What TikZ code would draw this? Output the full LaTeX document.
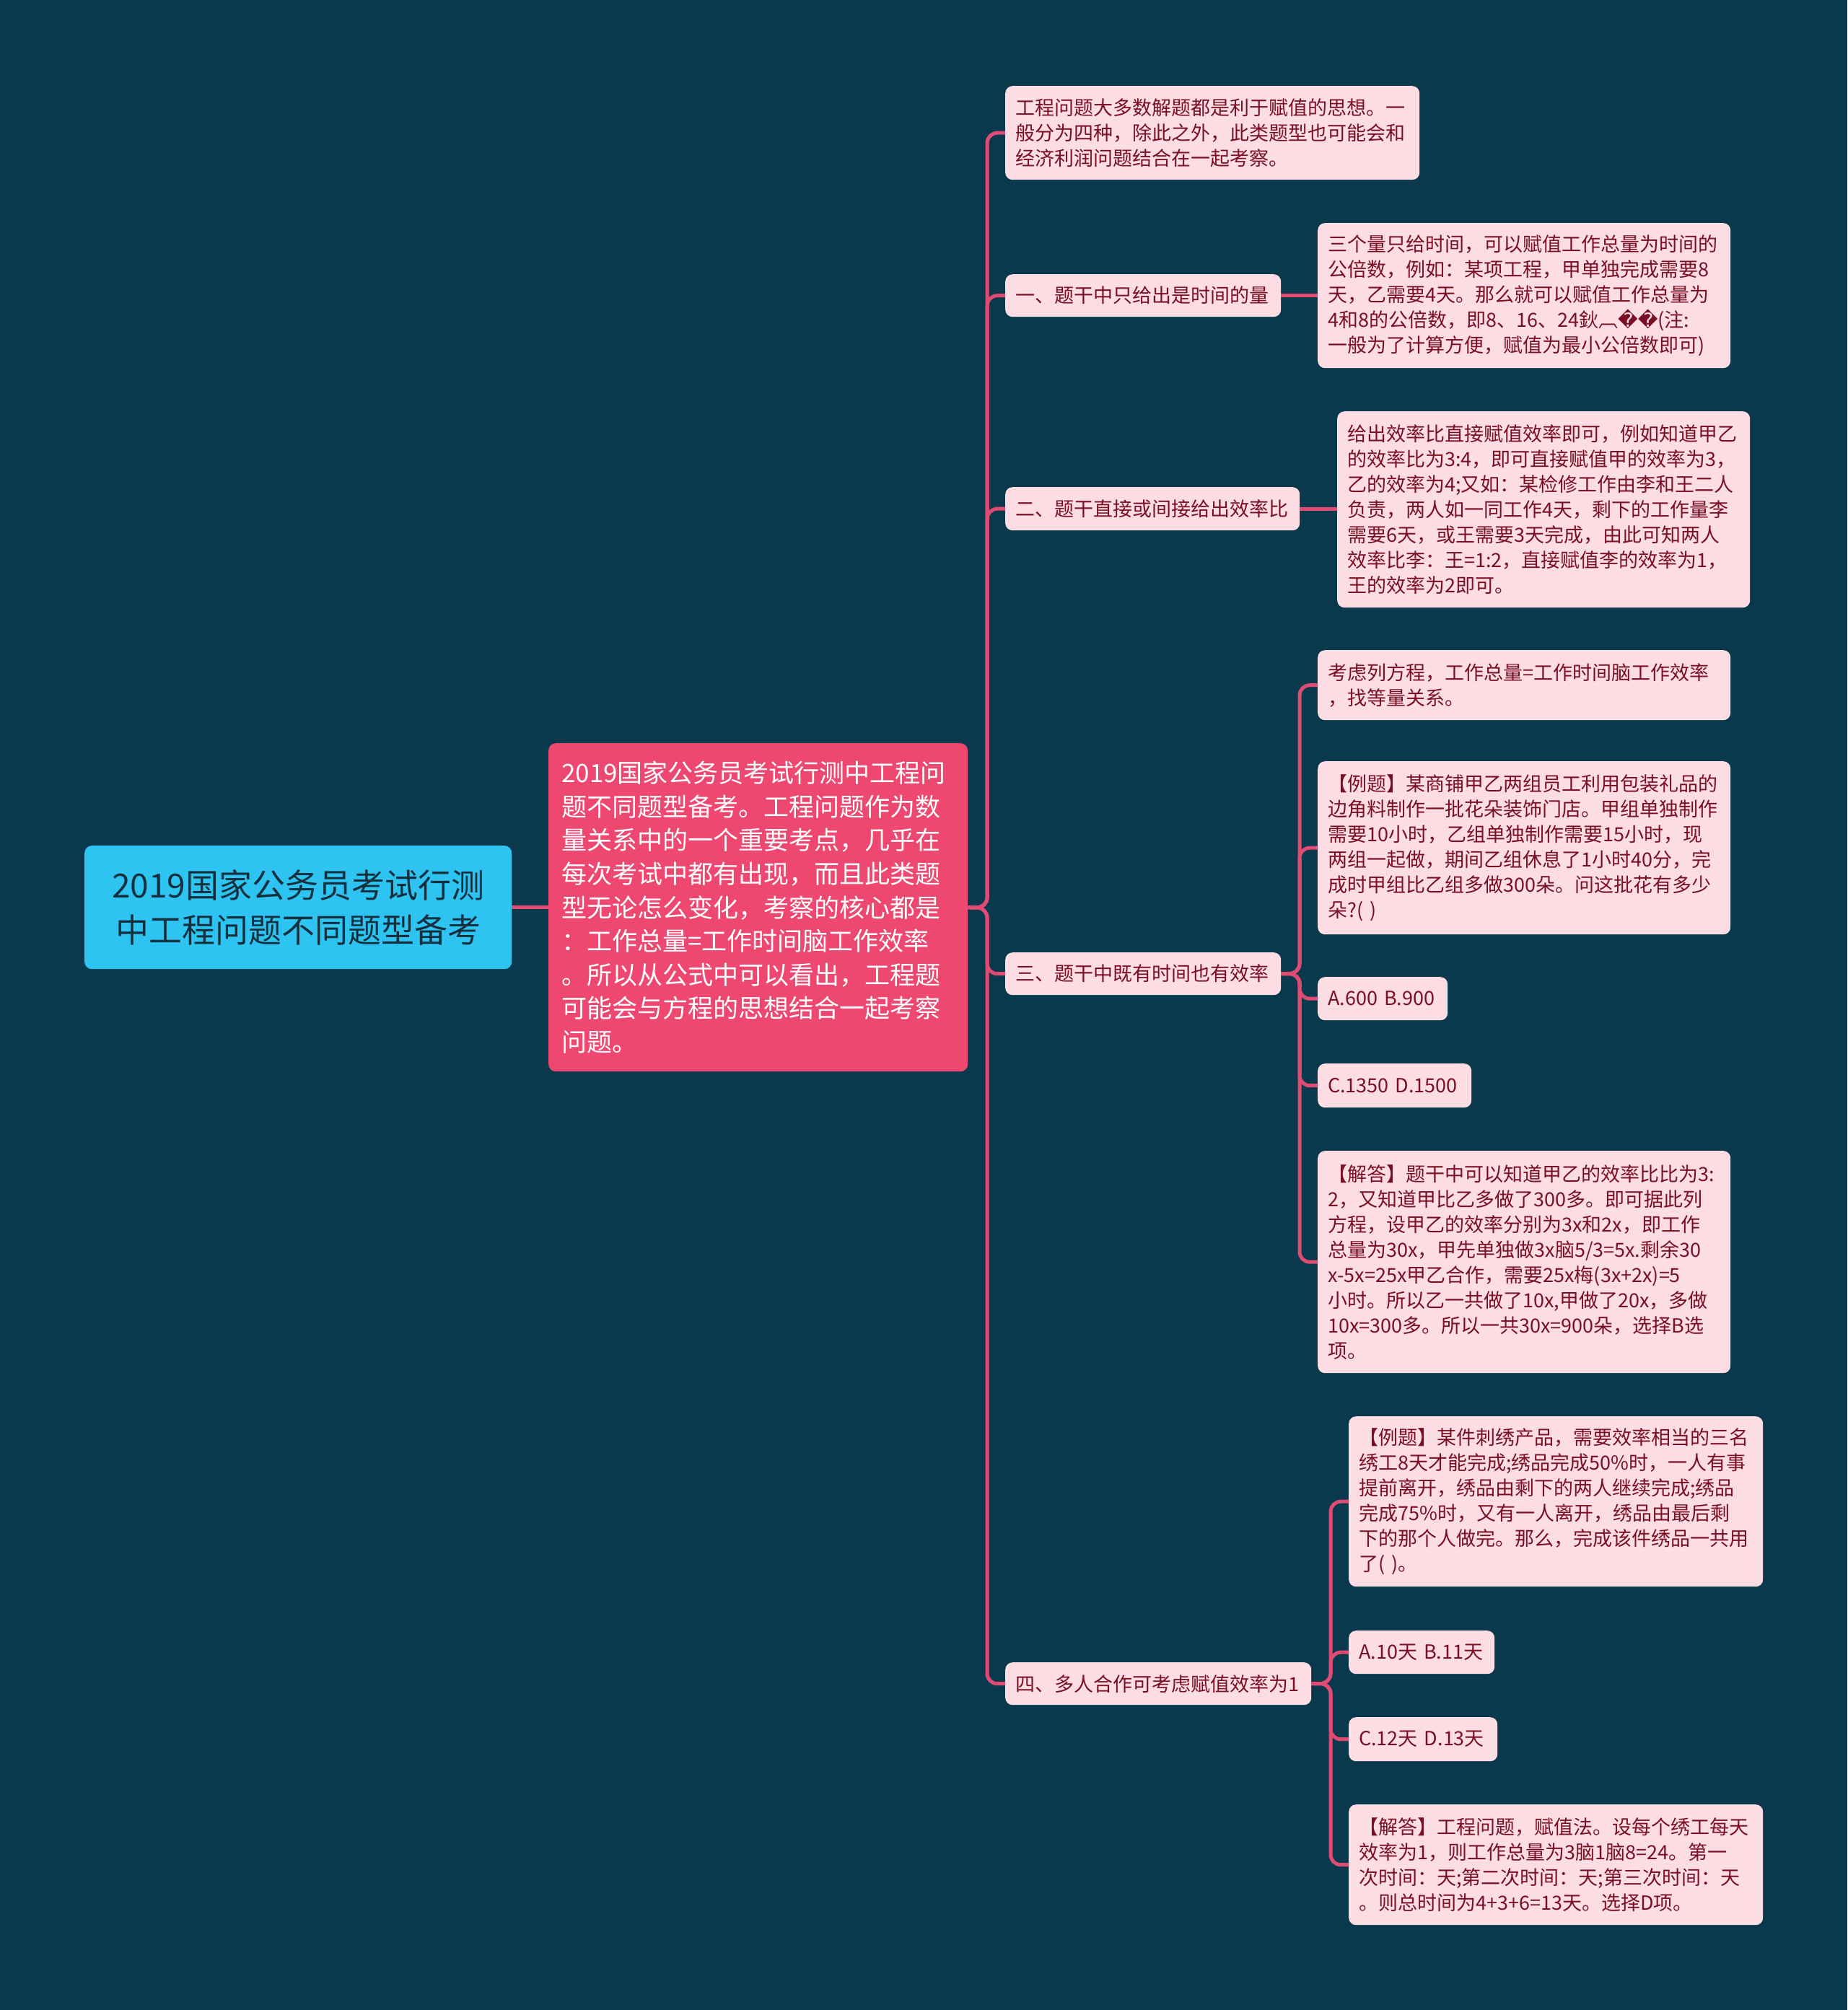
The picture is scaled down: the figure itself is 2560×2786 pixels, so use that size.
\documentclass[tikz,border=0pt]{standalone}
\usepackage{fontspec}
\setmainfont{Noto Sans CJK SC}
\newfontfamily\dejavu{DejaVu Sans}
\definecolor{bg}{HTML}{0A394D}
\definecolor{rootfill}{HTML}{2EC4F2}
\definecolor{roottext}{HTML}{14303E}
\definecolor{mainfill}{HTML}{EE4770}
\definecolor{leaffill}{HTML}{FCDDE4}
\definecolor{leaftext}{HTML}{7A0F24}
\definecolor{edgecol}{HTML}{E04B74}
\begin{document}
\begin{tikzpicture}[x=1pt,y=-1pt,
  edge/.style={draw=edgecol,line width=5pt,rounded corners=14pt},
  rootbox/.style={fill=rootfill,text=roottext,rounded corners=10pt,anchor=north west,align=center,inner xsep=0pt,inner ysep=0pt,font=\fontsize{46}{62}\selectfont},
  mainbox/.style={fill=mainfill,text=white,rounded corners=10pt,anchor=north west,align=left,inner xsep=18pt,inner ysep=0pt,font=\fontsize{35}{46.6}\selectfont},
  leaf/.style={fill=leaffill,text=leaftext,rounded corners=10pt,anchor=north west,align=left,inner xsep=14pt,inner ysep=0pt,font=\fontsize{27}{35}\selectfont}
]
\fill[bg] (0,0) rectangle (2560,2786);
\useasboundingbox (0,0) rectangle (2560,2786);

\node[rootbox,text width=592pt,minimum height=171pt] (root) at (117,1172) {2019国家公务员考试行测\\中工程问题不同题型备考};
\node[mainbox,text width=545pt,minimum height=455pt] (main) at (760,1030) {2019国家公务员考试行测中工程问\\题不同题型备考。工程问题作为数\\量关系中的一个重要考点，几乎在\\每次考试中都有出现，而且此类题\\型无论怎么变化，考察的核心都是\\：工作总量=工作时间脑工作效率\\。所以从公式中可以看出，工程题\\可能会与方程的思想结合一起考察\\问题。};

\node[leaf,text width=546pt,minimum height=130pt] (c0) at (1393,119) {工程问题大多数解题都是利于赋值的思想。一\\般分为四种，除此之外，此类题型也可能会和\\经济利润问题结合在一起考察。};
\node[leaf,text width=354pt,minimum height=59pt] (c1) at (1393,380) {一、题干中只给出是时间的量};
\node[leaf,text width=544pt,minimum height=201pt] (c1a) at (1826,309) {三个量只给时间，可以赋值工作总量为时间的\\公倍数，例如：某项工程，甲单独完成需要8\\天，乙需要4天。那么就可以赋值工作总量为\\4和8的公倍数，即8、16、24鈥︹{\dejavu ��}(注:\\一般为了计算方便，赋值为最小公倍数即可)};
\node[leaf,text width=380pt,minimum height=60pt] (c2) at (1393,675) {二、题干直接或间接给出效率比};
\node[leaf,text width=544pt,minimum height=272pt] (c2a) at (1853,570) {给出效率比直接赋值效率即可，例如知道甲乙\\的效率比为3:4，即可直接赋值甲的效率为3，\\乙的效率为4;又如：某检修工作由李和王二人\\负责，两人如一同工作4天，剩下的工作量李\\需要6天，或王需要3天完成，由此可知两人\\效率比李：王=1:2，直接赋值李的效率为1，\\王的效率为2即可。};
\node[leaf,text width=354pt,minimum height=59pt] (c3) at (1393,1320) {三、题干中既有时间也有效率};
\node[leaf,text width=544pt,minimum height=97pt] (d1) at (1826,901) {考虑列方程，工作总量=工作时间脑工作效率\\，找等量关系。};
\node[leaf,text width=544pt,minimum height=240pt] (d2) at (1826,1055) {【例题】某商铺甲乙两组员工利用包装礼品的\\边角料制作一批花朵装饰门店。甲组单独制作\\需要10小时，乙组单独制作需要15小时，现\\两组一起做，期间乙组休息了1小时40分，完\\成时甲组比乙组多做300朵。问这批花有多少\\朵?( )};
\node[leaf,text width=152pt,minimum height=60pt] (d3) at (1826,1354) {A.600 B.900};
\node[leaf,text width=185pt,minimum height=61pt] (d4) at (1826,1474) {C.1350 D.1500};
\node[leaf,text width=544pt,minimum height=308pt] (d5) at (1826,1595) {【解答】题干中可以知道甲乙的效率比比为3:\\2，又知道甲比乙多做了300多。即可据此列\\方程，设甲乙的效率分别为3x和2x，即工作\\总量为30x，甲先单独做3x脑5/3=5x.剩余30\\x-5x=25x甲乙合作，需要25x梅(3x+2x)=5\\小时。所以乙一共做了10x,甲做了20x，多做\\10x=300多。所以一共30x=900朵，选择B选\\项。};
\node[leaf,text width=396pt,minimum height=59pt] (c4) at (1393,2304) {四、多人合作可考虑赋值效率为1};
\node[leaf,text width=546pt,minimum height=236pt] (e1) at (1869,1963) {【例题】某件刺绣产品，需要效率相当的三名\\绣工8天才能完成;绣品完成50\%时，一人有事\\提前离开，绣品由剩下的两人继续完成;绣品\\完成75\%时，又有一人离开，绣品由最后剩\\下的那个人做完。那么，完成该件绣品一共用\\了( )。};
\node[leaf,text width=174pt,minimum height=60pt] (e2) at (1869,2260) {A.10天 B.11天};
\node[leaf,text width=178pt,minimum height=61pt] (e3) at (1869,2380) {C.12天 D.13天};
\node[leaf,text width=546pt,minimum height=167pt] (e4) at (1869,2501) {【解答】工程问题，赋值法。设每个绣工每天\\效率为1，则工作总量为3脑1脑8=24。第一\\次时间：天;第二次时间：天;第三次时间：天\\。则总时间为4+3+6=13天。选择D项。};

\coordinate (t0) at (1368,1258);
\coordinate (t3) at (1801,1349.5);
\coordinate (t4) at (1844,2333.5);

\draw[edge] (root.east) -- (main.west);
\foreach \n in {c0,c1,c2,c3,c4}
  \draw[edge] (main.east) -- (t0) |- (\n.west);
\draw[edge] (c1.east) -- (c1a.west |- c1.east);
\draw[edge] (c2.east) -- (c2a.west |- c2.east);
\foreach \n in {d1,d2,d3,d4,d5}
  \draw[edge] (c3.east) -- (t3) |- (\n.west);
\foreach \n in {e1,e2,e3,e4}
  \draw[edge] (c4.east) -- (t4) |- (\n.west);
\end{tikzpicture}
\end{document}
